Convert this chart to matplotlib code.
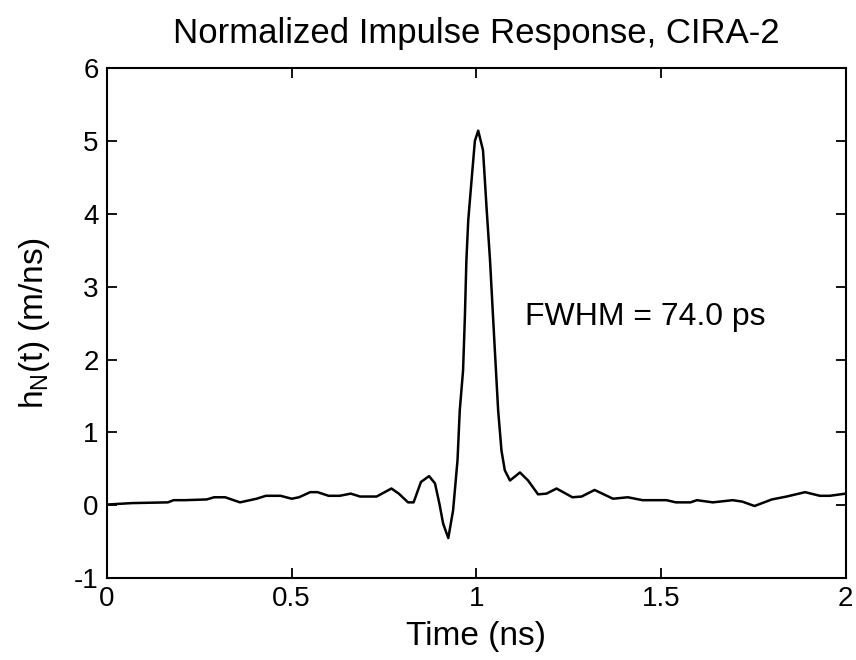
import matplotlib
matplotlib.use("Agg")
import matplotlib.pyplot as plt

plt.rcParams['font.family'] = ['Liberation Sans', 'DejaVu Sans']
plt.rcParams['mathtext.fontset'] = 'custom'
plt.rcParams['mathtext.rm'] = 'Liberation Sans'
plt.rcParams['mathtext.it'] = 'Liberation Sans'

time_ns = [0.0, 0.068, 0.165, 0.18, 0.21, 0.27, 0.29, 0.32, 0.36, 0.405, 0.43, 0.47,
           0.50, 0.52, 0.55, 0.57, 0.60, 0.63, 0.66, 0.685, 0.71, 0.73, 0.77, 0.79,
           0.815, 0.83, 0.85, 0.872, 0.888, 0.90, 0.91, 0.924, 0.937, 0.949, 0.955,
           0.964, 0.969, 0.973, 0.978, 0.987, 0.996, 1.005, 1.018, 1.028, 1.037,
           1.045, 1.050, 1.059, 1.068, 1.077, 1.091, 1.118, 1.14, 1.167, 1.19, 1.217,
           1.26, 1.285, 1.32, 1.37, 1.41, 1.45, 1.515, 1.54, 1.58, 1.597, 1.64, 1.694,
           1.72, 1.753, 1.80, 1.84, 1.89, 1.93, 1.957, 2.0]
h_n = [0.01, 0.03, 0.04, 0.07, 0.07, 0.08, 0.11, 0.11, 0.04, 0.09, 0.13, 0.13,
       0.09, 0.11, 0.18, 0.18, 0.13, 0.13, 0.16, 0.12, 0.12, 0.12, 0.23, 0.16,
       0.04, 0.04, 0.32, 0.40, 0.30, 0.02, -0.25, -0.45, -0.07, 0.62, 1.30,
       1.85, 2.6, 3.36, 3.91, 4.46, 5.0, 5.14, 4.87, 4.05, 3.36,
       2.6, 2.13, 1.30, 0.75, 0.48, 0.34, 0.45, 0.34, 0.15, 0.16, 0.23,
       0.11, 0.12, 0.21, 0.09, 0.11, 0.07, 0.07, 0.04, 0.04, 0.07, 0.04, 0.07,
       0.05, -0.01, 0.08, 0.12, 0.18, 0.13, 0.13, 0.16]

x_ticks = [0, 0.5, 1, 1.5, 2]
x_tick_labels = ['0', '0.5', '1', '1.5', '2']
y_ticks = [-1, 0, 1, 2, 3, 4, 5, 6]
y_tick_labels = ['-1', '0', '1', '2', '3', '4', '5', '6']

title = 'Normalized Impulse Response, CIRA-2'
x_label = 'Time (ns)'
y_label = r'h$_\mathrm{N}$(t) (m/ns)'
annotation = 'FWHM = 74.0 ps'

fig = plt.figure(figsize=(8.56, 6.6), dpi=100)
ax = fig.add_axes([0.125, 0.124, 0.863, 0.773])
ax.plot(time_ns, h_n, color='black', linewidth=1.8)
ax.set_xlim(0, 2)
ax.set_ylim(-1, 6)
ax.set_xticks(x_ticks)
ax.set_xticklabels(x_tick_labels)
ax.set_yticks(y_ticks)
ax.set_yticklabels(y_tick_labels)
ax.tick_params(direction='in', top=True, right=True, length=7, width=1.3,
               labelsize=20, pad=6)
for s in ax.spines.values():
    s.set_linewidth(1.5)
fig.text(0.5565, 0.935, title, fontsize=25, ha='center', va='baseline')
ax.set_xlabel(x_label, fontsize=24, labelpad=6)
ax.set_ylabel(y_label, fontsize=24, labelpad=16)
ax.text(1.131, 2.47, annotation, fontsize=23, va='baseline', ha='left')

fig.savefig('out.png', dpi=100)
